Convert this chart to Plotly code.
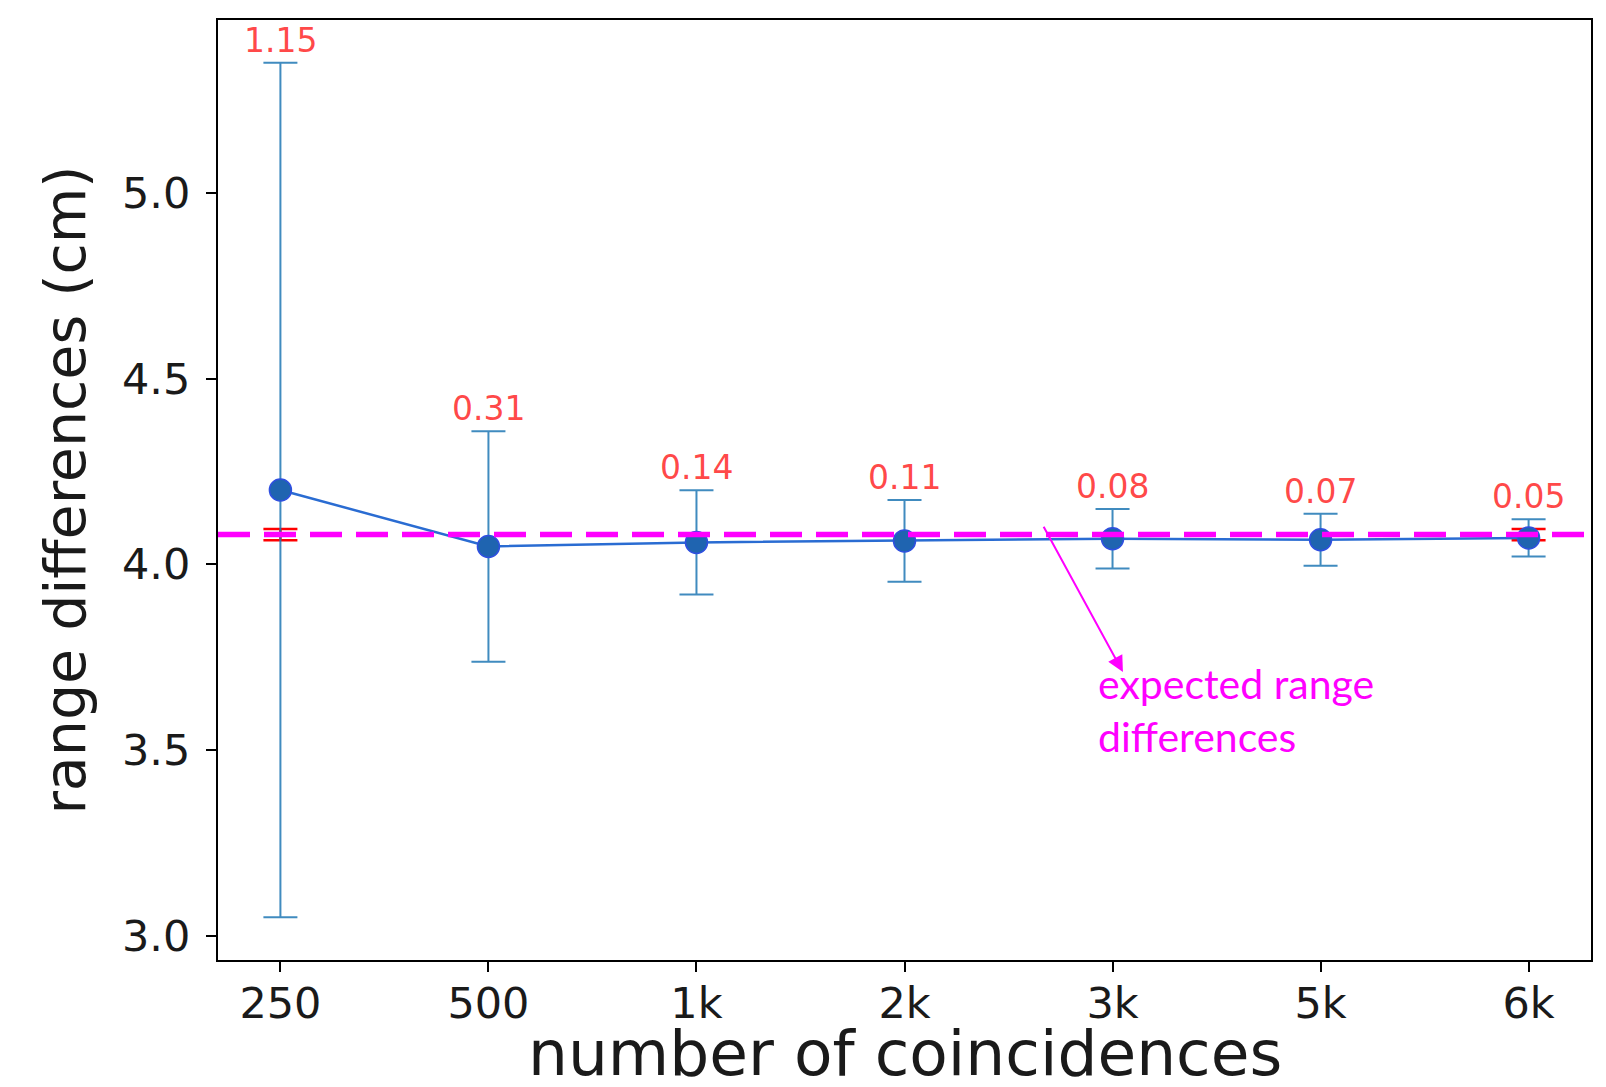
import plotly.graph_objects as go

# ---- data ----
categories = ['250', '500', '1k', '2k', '3k', '5k', '6k']
mean_values = [4.20, 4.048, 4.059, 4.063, 4.069, 4.066, 4.071]
std_values = [1.15, 0.31, 0.14, 0.11, 0.08, 0.07, 0.05]
std_labels = ['1.15', '0.31', '0.14', '0.11', '0.08', '0.07', '0.05']
expected_value = 4.08
expected_err = 0.015
expected_cats = ['250', '6k']
x_title = 'number of coincidences'
y_title = 'range differences (cm)'

fig = go.Figure()

# red reference error bars (expected value)
fig.add_trace(go.Scatter(
    x=expected_cats, y=[expected_value] * len(expected_cats),
    mode='markers', marker=dict(size=1, color='rgba(0,0,0,0)'),
    error_y=dict(type='data', array=[expected_err] * len(expected_cats),
                 color='red', thickness=2.5, width=17),
    showlegend=False, hoverinfo='skip'))

# measured values with error bars
fig.add_trace(go.Scatter(
    x=categories, y=mean_values,
    mode='lines+markers',
    line=dict(color='#2a6cd2', width=2.5),
    marker=dict(size=22, color='#1f64b0', line=dict(color='#2f4fe0', width=1.5)),
    error_y=dict(type='data', array=std_values,
                 color='rgba(31,119,180,0.85)', thickness=2, width=17),
    showlegend=False))

# expected range difference line
fig.add_shape(type='line', xref='paper', x0=0, x1=1, yref='y',
              y0=expected_value, y1=expected_value,
              line=dict(color='#ff00ff', width=5.5, dash='32px,14px'),
              layer='above')

# std labels above error bars
for i, (m, s, t) in enumerate(zip(mean_values, std_values, std_labels)):
    fig.add_annotation(x=i, y=m + s, text=t, showarrow=False,
                       xref='x', yref='y',
                       yanchor='bottom', yshift=1,
                       font=dict(family='DejaVu Sans', size=33,
                                 color='rgba(255,40,40,0.85)'))

# arrow + text annotation
fig.add_annotation(x=4.05, y=3.71, ax=3.665, ay=4.105,
                   xref='x', yref='y', axref='x', ayref='y',
                   text='', showarrow=True, arrowhead=2, arrowsize=1.6,
                   arrowwidth=2, arrowcolor='#ff00ff', arrowside='end')
fig.add_annotation(x=3.92, y=3.75, xref='x', yref='y',
                   text='expected range<br>differences', showarrow=False,
                   xanchor='left', yanchor='top', align='left',
                   font=dict(family='Lato', size=41, color='#ff00ff'))

# x-axis title (placed low, partly cut off at the bottom as in the original)
fig.add_annotation(x=0.5, y=0, xref='paper', yref='paper',
                   text=x_title, showarrow=False,
                   xanchor='center', yanchor='top', yshift=-55,
                   font=dict(family='DejaVu Sans', size=63, color='#1a1a1a'))

fig.update_layout(
    width=1590, height=1071,
    margin=dict(l=210, r=7, t=12, b=119),
    paper_bgcolor='white', plot_bgcolor='white',
    font=dict(family='DejaVu Sans', color='#1a1a1a'),
)
fig.update_xaxes(
    type='category', categoryorder='array', categoryarray=categories,
    range=[-0.3, 6.3], automargin=False,
    showline=True, linecolor='black', linewidth=2, mirror=True,
    ticks='outside', ticklen=10, tickwidth=1.5, tickcolor='black',
    tickfont=dict(size=43, family='DejaVu Sans'),
    ticklabelstandoff=-6,
    showgrid=False, zeroline=False,
)
fig.update_yaxes(
    range=[2.935, 5.465], automargin=False,
    tickvals=[3.0, 3.5, 4.0, 4.5, 5.0], ticktext=['3.0', '3.5', '4.0', '4.5', '5.0'],
    showline=True, linecolor='black', linewidth=2, mirror=True,
    ticks='outside', ticklen=10, tickwidth=1.5, tickcolor='black',
    tickfont=dict(size=43, family='DejaVu Sans'),
    ticklabelstandoff=7,
    showgrid=False, zeroline=False,
    title=dict(text=y_title,
               font=dict(size=57, family='DejaVu Sans'), standoff=18),
)

fig.write_html('out.html')
